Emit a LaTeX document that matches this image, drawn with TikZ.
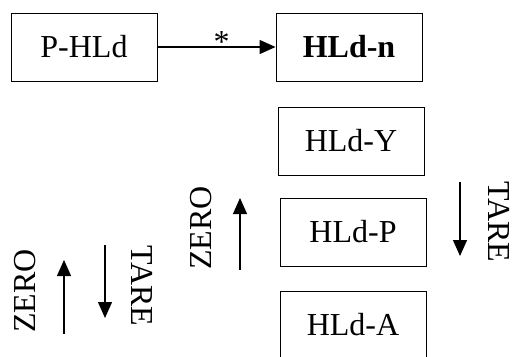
\documentclass[tikz,border=0pt]{standalone}
\usepackage{fontspec}
\setmainfont{Liberation Serif}
\usetikzlibrary{arrows.meta,positioning}

\begin{document}
\begin{tikzpicture}[
    x=1pt, y=-1pt,
    box/.style={draw, line width=0.9pt, minimum width=146pt, minimum height=68pt,
                inner sep=0pt, font=\fontsize{32}{38}\selectfont},
    arr/.style={-{Triangle[length=16pt,width=14pt]}, line width=1.3pt},
    lbl/.style={font=\fontsize{32}{38}\selectfont, inner sep=0pt}
  ]
    \useasboundingbox (0,0) rectangle (516,356);

    % === Top row ===
    \node[box] (phld) at (84,47) {P-HLd};
    \node[box] (hldn) at (349,47) {\bfseries HLd-n};
    \draw[arr] (phld) -- (hldn)
      node[midway, xshift=5pt, yshift=5pt, font=\fontsize{32}{38}\selectfont] (star) {*};

    % === Menu column ===
    \node[box] (hldy) at (351,141) {HLd-Y};
    \node[box] (hldp) at (353,232) {HLd-P};
    \node[box] (hlda) at (353,325) {HLd-A};

    % === Keys beside the column ===
    \coordinate (zup0) at (240,270);
    \coordinate (zup1) at (240,198);
    \draw[arr] (zup0) -- (zup1);
    \node[lbl, rotate=90] (zero2) at (201,228) {ZERO};

    \coordinate (tdn0) at (460,182);
    \coordinate (tdn1) at (460,256);
    \draw[arr] (tdn0) -- (tdn1);
    \node[lbl, rotate=-90] (tare2) at (499,222) {TARE};

    % === Keys on the left ===
    \coordinate (lup0) at (64,334);
    \coordinate (lup1) at (64,260);
    \draw[arr] (lup0) -- (lup1);
    \node[lbl, rotate=90] (zero1) at (25,291) {ZERO};

    \coordinate (ldn0) at (105,245);
    \coordinate (ldn1) at (105,318);
    \draw[arr] (ldn0) -- (ldn1);
    \node[lbl, rotate=-90] (tare1) at (142,286) {TARE};
  \end{tikzpicture}
\end{document}
